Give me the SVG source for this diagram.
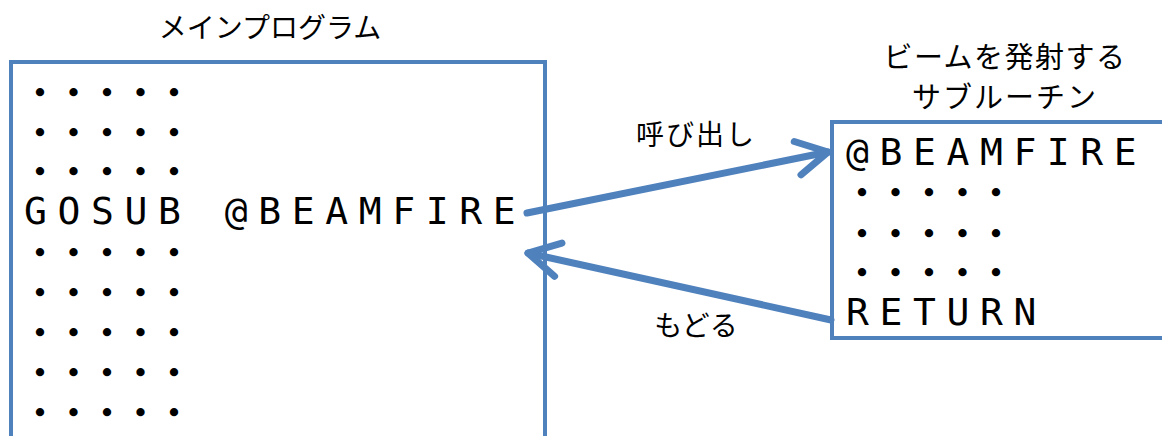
<svg xmlns="http://www.w3.org/2000/svg" width="1162" height="436" viewBox="0 0 1162 436">
<style>
.box{fill:none;stroke:#4F81BD;stroke-width:4}
.conn{fill:none;stroke:#4F81BD;stroke-width:7;stroke-linecap:round}
.jp{font-family:"Noto Sans CJK JP","Noto Sans",sans-serif;font-size:28px;fill:#000}
.code{font-family:"DejaVu Sans Mono","Liberation Mono",monospace;font-size:38px;letter-spacing:10.6px;fill:#000}
.dots{font-family:"Noto Sans CJK JP",sans-serif;font-size:22px;font-weight:700;letter-spacing:11.5px;fill:#000;stroke:#000;stroke-width:2.6px}
</style>
<defs>
<marker id="chev" viewBox="-40 -25 50 50" refX="0" refY="0" markerWidth="50" markerHeight="50" markerUnits="userSpaceOnUse" orient="auto" overflow="visible">
<path d="M-31,-17 L0,0 L-31,17" fill="none" stroke="#4F81BD" stroke-width="7" stroke-linecap="round" stroke-linejoin="round"/>
</marker>
</defs>
<rect width="1162" height="436" fill="#fff"/>
<g id="main">
<path class="box" d="M11,440 V62 H545 V440"/>
<text class="jp" x="270" y="38" text-anchor="middle">メインプログラム</text>
<text class="dots" x="29" y="100.4">・・・・・</text>
<text class="dots" x="29" y="140.4">・・・・・</text>
<text class="dots" x="29" y="179.4">・・・・・</text>
<text class="code" x="24" y="224" xml:space="preserve">GOSUB @BEAMFIRE</text>
<text class="dots" x="29" y="260.4">・・・・・</text>
<text class="dots" x="29" y="300.4">・・・・・</text>
<text class="dots" x="29" y="340.4">・・・・・</text>
<text class="dots" x="29" y="380.4">・・・・・</text>
<text class="dots" x="29" y="420.4">・・・・・</text>
</g>
<g id="sub">
<path class="box" d="M1166,122 H832 V338 H1166"/>
<text class="jp" x="1005" y="68" text-anchor="middle" style="font-size:29px;letter-spacing:1.5px">ビームを発射する</text>
<text class="jp" x="1005" y="108" text-anchor="middle" style="font-size:29px;letter-spacing:2px">サブルーチン</text>
<text class="code" x="846" y="165">@BEAMFIRE</text>
<text class="dots" x="851" y="200.4">・・・・・</text>
<text class="dots" x="851" y="241.4">・・・・・</text>
<text class="dots" x="851" y="280.4">・・・・・</text>
<text class="code" x="846" y="325">RETURN</text>
</g>
<g id="connectors">
<line class="conn" x1="527" y1="213" x2="828" y2="152" marker-end="url(#chev)"/>
<line class="conn" x1="831" y1="320" x2="528" y2="253" marker-end="url(#chev)"/>
<text class="jp" x="696" y="145" text-anchor="middle" style="letter-spacing:2px">呼び出し</text>
<text class="jp" x="696" y="336" text-anchor="middle">もどる</text>
</g>
</svg>
